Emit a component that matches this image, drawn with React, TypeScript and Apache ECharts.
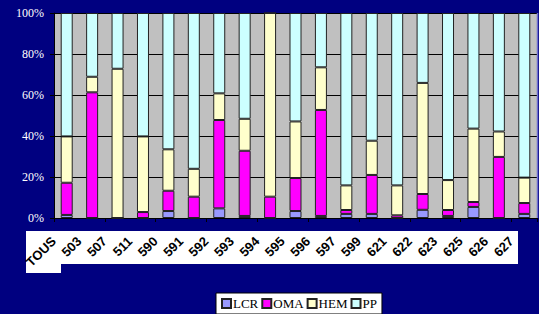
import React, { useEffect, useRef } from "react";
import * as echarts from "echarts";

const categories = ["TOUS", "503", "507", "511", "590", "591", "592", "593", "594", "595", "596", "597", "599", "621", "622", "623", "625", "626", "627"];
const lcr = [1.5, 0, 0, 0, 3.4, 0, 4.7, 1, 0, 3.4, 1, 2, 2, 0, 4, 1, 5.4, 0, 2];
const oma = [15.7, 61.3, 0, 2.9, 9.9, 10.4, 43.1, 31.8, 10.4, 16.1, 51.7, 1.9, 19, 1.3, 7.7, 2.9, 2.4, 29.8, 5.3];
const hem = [22.6, 7.6, 72.8, 36.9, 20.2, 13.6, 13.0, 15.6, 89.6, 27.6, 20.8, 12, 16.7, 14.6, 54.2, 14.6, 35.8, 12.4, 12.4];
const pp = [60.2, 31.1, 27.2, 60.2, 66.5, 76, 39.2, 51.6, 0, 52.9, 26.5, 84.1, 62.3, 84.1, 34.1, 81.5, 56.4, 57.8, 80.3];
const seriesNames = ["LCR", "OMA", "HEM", "PP"];
const seriesColors = ["#9999FF", "#FF00FF", "#FFFFCC", "#CCFFFF"];
const yTicks = [0, 20, 40, 60, 80, 100];

export default function App() {
  const ref = useRef<HTMLDivElement>(null);
  useEffect(() => {
    if (!ref.current) return;
    const chart = echarts.init(ref.current, null, { renderer: "svg" });
    const values = [lcr, oma, hem, pp];
    const barSeries = seriesNames.map((name, i) => ({
      name,
      type: "bar",
      stack: "total",
      barWidth: 12,
      data: values[i],
      itemStyle: { color: seriesColors[i], borderColor: "#222222", borderWidth: 1 },
      emphasis: { disabled: true },
    }));
    const labelSeries = {
      name: "categoryLabels",
      type: "custom",
      clip: false,
      silent: true,
      z: 5,
      data: categories.map((_, i) => [i, 0]),
      renderItem: (params: any, api: any) => {
        const p = api.coord([api.value(0), 0]);
        return {
          type: "text",
          x: p[0] - 13,
          y: p[1] + 21,
          rotation: Math.PI / 4,
          style: {
            text: categories[params.dataIndex],
            textAlign: "right",
            textVerticalAlign: "middle",
            fill: "#000000",
            font: "bold 13px 'Liberation Sans', Arial, sans-serif",
          },
        };
      },
    };
    chart.setOption({
      animation: false,
      backgroundColor: "#000080",
      grid: {
        left: 54,
        right: 2,
        top: 13,
        bottom: 96,
        show: true,
        backgroundColor: "#C0C0C0",
        borderWidth: 0,
        containLabel: false,
        outerBoundsMode: "none",
      },
      legend: {
        data: seriesNames,
        left: 216,
        top: 293,
        orient: "horizontal",
        backgroundColor: "#FFFFFF",
        borderColor: "#000000",
        borderWidth: 1,
        borderRadius: 0,
        padding: [4, 5, 4, 5],
        itemGap: 3,
        itemWidth: 9,
        itemHeight: 9,
        icon: "rect",
        textStyle: {
          color: "#000000",
          fontFamily: "Liberation Serif",
          fontSize: 13,
          padding: [0, 0, 0, -3],
        },
      },
      graphic: [
        { type: "rect", z: -10, shape: { x: 26, y: 231, width: 492, height: 33 }, style: { fill: "#FFFFFF" } },
        { type: "rect", z: -10, shape: { x: 26, y: 231, width: 35, height: 42 }, style: { fill: "#FFFFFF" } },
        { type: "line", z: 10, shape: { x1: 537.5, y1: 13, x2: 537.5, y2: 218 }, style: { stroke: "#6F6FCF", lineWidth: 1.5 } },
      ],
      xAxis: {
        type: "category",
        data: categories,
        axisLine: { show: true, lineStyle: { color: "#000000", width: 1 } },
        axisTick: { show: true, length: 4, lineStyle: { color: "#000000" } },
        axisLabel: { show: false },
        splitLine: { show: false },
      },
      yAxis: {
        type: "value",
        min: 0,
        max: 100,
        interval: 20,
        axisLine: { show: true, lineStyle: { color: "#000000", width: 1 } },
        axisTick: { show: true, length: 4, lineStyle: { color: "#000000" } },
        axisLabel: {
          color: "#FFFFFF",
          fontFamily: "Liberation Serif",
          fontSize: 12,
          margin: 10,
          formatter: (v: number) => (yTicks.includes(v) ? v + "%" : ""),
        },
        splitLine: { show: true, lineStyle: { color: "#000000", width: 1 } },
      },
      series: [...barSeries, labelSeries],
    });
    return () => chart.dispose();
  }, []);
  return <div ref={ref} style={{ position: "fixed", left: 0, top: 0, width: 539, height: 314 }} />;
}
